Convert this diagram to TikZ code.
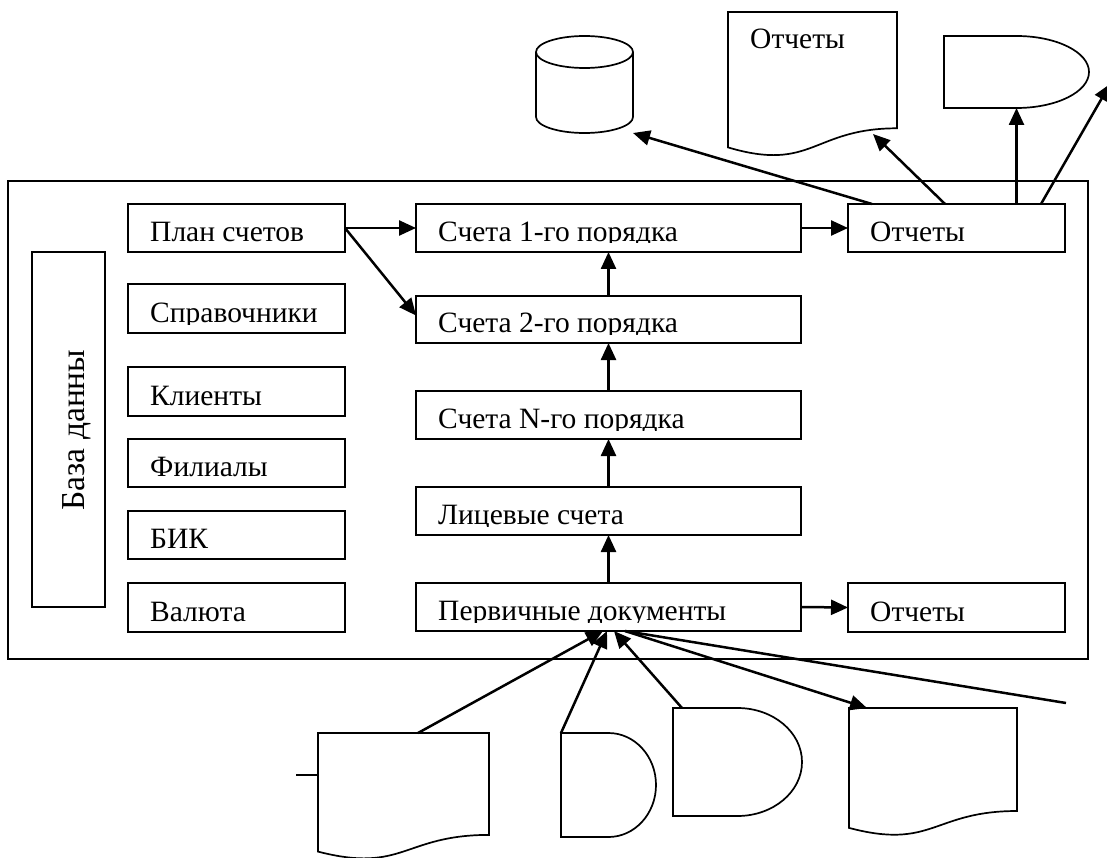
\documentclass[tikz,border=0pt]{standalone}
\usepackage{fontspec}
\setmainfont{Liberation Serif}
\usetikzlibrary{arrows.meta}
\newcommand\drawbox[6]{%
  \node[bx, minimum width={(#4-#2)*1pt}, minimum height={(#5-#3)*1pt}] (#1) at ({(#2+#4)/2},{-(#3+#5)/2}) {};
  \begin{scope}
    \clip (#2,-#3) rectangle (#4,{-(#5-9)});
    \node[txt] (#1t) at ({#2+22},{-(#5-10.5)}) {#6};
  \end{scope}}
\begin{document}
\begin{tikzpicture}[x=1pt,y=1pt,
  bx/.style={draw, line width=1.7pt, inner sep=0pt, outer sep=0pt, rectangle},
  holder/.style={inner sep=0pt, outer sep=0pt, rectangle},
  txt/.style={anchor=base west, inner sep=0pt, font=\fontsize{29.5}{34}\selectfont},
  arr/.style={line width=2.5pt, -{Triangle[length=17pt,width=15pt]}},
  ln/.style={line width=2.5pt},
  sh/.style={line width=1.7pt}]
\useasboundingbox (0,0) rectangle (1107,-858);
\clip (0,0) rectangle (1107,-858);

% outer frame
\node[bx, minimum width=1080pt, minimum height=478pt] (frame) at (548,-420) {};
% database box
\node[bx, minimum width=73pt, minimum height=355pt] (db) at (68.5,-429.5) {};
\node[txt, anchor=base, rotate=90, font=\fontsize{33.5}{38}\selectfont] (dbt) at (84,-430) {База данны};

% left column
\drawbox{plan}{128}{204}{345}{252}{План счетов}
\drawbox{sprav}{128}{284}{345}{333}{Справочники}
\drawbox{cli}{128}{367}{345}{416}{Клиенты}
\drawbox{fil}{128}{439}{345}{487}{Филиалы}
\drawbox{bik}{128}{511}{345}{559}{БИК}
\drawbox{val}{128}{583}{345}{632}{Валюта}
% middle column
\drawbox{s1}{416}{204}{801}{252}{Счета 1-го порядка}
\drawbox{s2}{416}{296}{801}{343}{Счета 2-го порядка}
\drawbox{sN}{416}{391}{801}{439}{Счета N-го порядка}
\drawbox{lic}{416}{487}{801}{535}{Лицевые счета}
\drawbox{perv}{416}{583}{801}{631}{Первичные документы}
% right column
\drawbox{r1}{848}{204}{1065}{252}{Отчеты}
\drawbox{r2}{848}{583}{1065}{632}{Отчеты}

% top shapes
\node[holder, minimum width=97pt, minimum height=97pt] (cyl) at (584.5,-84.5) {};
\draw[sh] (536,-52) -- (536,-117) arc[start angle=180,end angle=360,x radius=48.5,y radius=16] -- (633,-52);
\draw[sh] (584.5,-52) ellipse[x radius=48.5, y radius=16];

\node[holder, minimum width=169pt, minimum height=145pt] (docT) at (812.5,-84.5) {};
\draw[sh] (728,-12) -- (897,-12) -- (897,-128.3) .. controls (812.5,-128.3) and (812.5,-172.5) .. (728,-147.4) -- cycle;
\node[txt] (docTt) at (750,-49) {Отчеты};

\node[holder, minimum width=145pt, minimum height=72pt] (dT) at (1016.5,-72) {};
\draw[sh] (944,-36) -- (1016.5,-36) arc[start angle=90,end angle=-90,x radius=72.5,y radius=36] -- (944,-108) -- cycle;

% bottom shapes
\node[holder, minimum width=171pt, minimum height=127pt] (docL) at (403.5,-796.5) {};
\draw[sh] (318,-733) -- (489,-733) -- (489,-834.9) .. controls (403.5,-834.9) and (403.5,-873.6) .. (318,-851.6) -- cycle;
\coordinate (tick) at (296,-775);
\draw[line width=1.8pt] (tick) -- (tick -| docL.west);

\node[holder, minimum width=95pt, minimum height=104pt] (dS) at (608.5,-785) {};
\draw[sh] (561,-733) -- (608.5,-733) arc[start angle=90,end angle=-90,x radius=47.5,y radius=52] -- (561,-837) -- cycle;

\node[holder, minimum width=129pt, minimum height=108pt] (dB) at (737.5,-762) {};
\draw[sh] (673,-708) -- (737.5,-708) arc[start angle=90,end angle=-90,x radius=64.5,y radius=54] -- (673,-816) -- cycle;

\node[holder, minimum width=168pt, minimum height=128.4pt] (docR) at (933,-772.2) {};
\draw[sh] (849,-708) -- (1017,-708) -- (1017,-811) .. controls (933,-811) and (933,-850.1) .. (849,-827.9) -- cycle;

% free ends
\coordinate (docTin) at (873,-134);
\coordinate (offR) at (1110,-84);
\coordinate (docRin) at (867,-708);
\coordinate (offB) at (1066,-703);

% connectors inside frame
\draw[arr] (plan.east) -- (s1.west);
\draw[arr] (plan.east) -- ([yshift=4pt]s2.west);
\draw[arr] (s2.north) -- (s1.south);
\draw[arr] (sN.north) -- (s2.south);
\draw[arr] (lic.north) -- (sN.south);
\draw[arr] (perv.north) -- (lic.south);
\draw[arr] (s1.east) -- (r1.west);
\draw[arr] (perv.east) -- (r2.west);

% connectors to the top shapes
\draw[arr] ([xshift=24pt]r1.north west) -- (cyl.south east);
\draw[arr] ([xshift=97pt]r1.north west) -- (docTin);
\draw[arr] (dT.south |- r1.north) -- (dT.south);
\draw[arr] ([xshift=193pt]r1.north west) -- (offR);

% connectors from the bottom shapes
\draw[arr] ([xshift=14.5pt]docL.north) -- ([xshift=-5.5pt]perv.south);
\draw[arr] (dS.north west) -- ([xshift=-1.5pt]perv.south);
\draw[arr] ([xshift=9pt]dB.north west) -- ([xshift=5.5pt]perv.south);
\draw[arr] ([xshift=16.5pt]perv.south) -- (docRin);
\draw[ln] ([xshift=16.5pt]perv.south) -- (offB);
\end{tikzpicture}
\end{document}
